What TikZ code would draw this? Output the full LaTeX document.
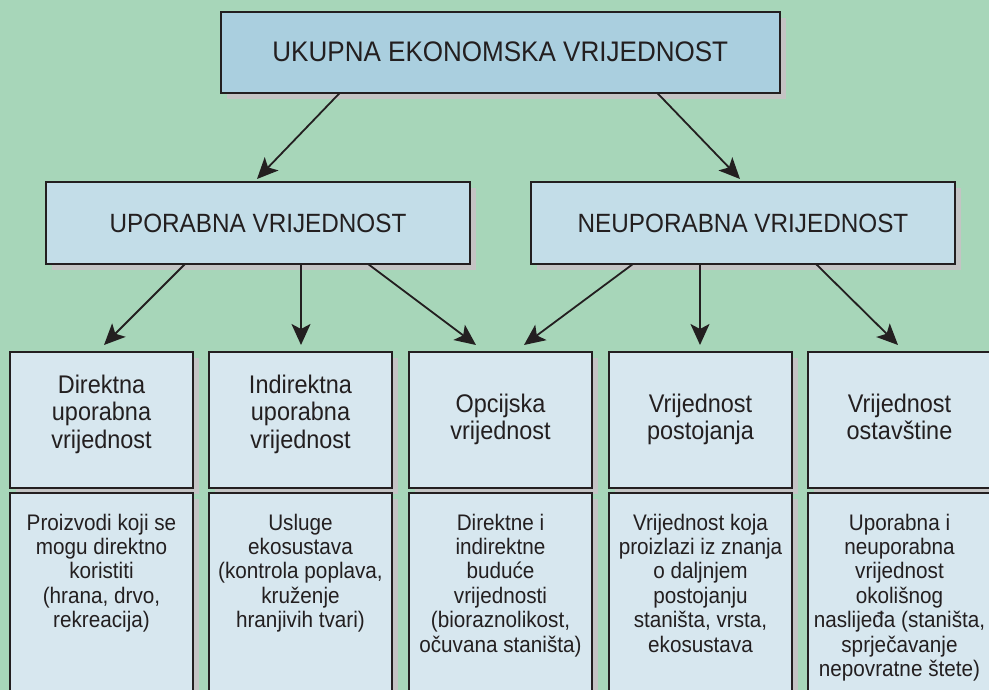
\documentclass[tikz,border=0pt]{standalone}
\usepackage{fontspec}
\setmainfont{Liberation Sans}[FakeStretch=0.92]
\usetikzlibrary{arrows.meta,shadows}

\definecolor{bggreen}{RGB}{167,214,185}
\definecolor{topblue}{RGB}{170,207,223}
\definecolor{midblue}{RGB}{195,221,232}
\definecolor{rowblue}{RGB}{215,231,239}
\definecolor{shadowgray}{RGB}{196,196,196}
\definecolor{ink}{RGB}{35,31,32}

\begin{document}
\begin{tikzpicture}[x=1pt,y=-1pt,
  box/.style={draw=ink, line width=1.8pt, outer sep=0pt, inner sep=0pt, text=ink,
    general shadow={fill=shadowgray, draw=none, shadow xshift=6pt, shadow yshift=-6pt}},
  headbox/.style={box, fill=topblue, minimum width=559pt, minimum height=81pt,
    font=\fontsize{28.3}{30}\selectfont},
  groupbox/.style={box, fill=midblue, minimum width=424pt, minimum height=82pt,
    font=\fontsize{26.4}{28}\selectfont},
  kindbox/.style={box, fill=rowblue, anchor=north, font=\fontsize{25.5}{27.7}\selectfont},
  notebox/.style={box, fill=rowblue, anchor=north, font=\fontsize{22.5}{24.4}\selectfont},
  arr/.style={draw=ink, line width=1.8pt, -{Stealth[length=21pt, width=19pt, inset=5pt]}}]

\useasboundingbox (0,0) rectangle (989,690);
\clip (0,0) rectangle (989,690);
\fill[bggreen] (0,0) rectangle (989,690);

% top level
\node[headbox] (top) at (500.3,52.2) {UKUPNA EKONOMSKA VRIJEDNOST};

% second level
\node[groupbox] (use) at (258,223) {UPORABNA VRIJEDNOST};
\node[groupbox] (nonuse) at (743,223) {NEUPORABNA VRIJEDNOST};

% value kinds
\newcommand{\kindtext}[2]{\parbox[t][136pt][t]{183pt}{\centering\rule{0pt}{#1}#2}}
\node[kindbox] (k1) at (101.5,352) {\kindtext{41pt}{Direktna\\uporabna\\vrijednost}};
\node[kindbox] (k2) at (300.5,352) {\kindtext{41pt}{Indirektna\\uporabna\\vrijednost}};
\node[kindbox] (k3) at (500.5,352) {\kindtext{60pt}{Opcijska\\vrijednost}};
\node[kindbox] (k4) at (700.5,352) {\kindtext{60pt}{Vrijednost\\postojanja}};
\node[kindbox] (k5) at (899.5,352) {\kindtext{60pt}{Vrijednost\\ostavštine}};

% descriptions
\newcommand{\notetext}[1]{\parbox[t][230pt][t]{183pt}{\centering\rule{0pt}{37pt}#1}}
\node[notebox] (d1) at (101.5,493) {\notetext{Proizvodi koji se\\mogu direktno\\koristiti\\(hrana, drvo,\\rekreacija)}};
\node[notebox] (d2) at (300.5,493) {\notetext{Usluge\\ekosustava\\(kontrola poplava,\\kruženje\\hranjivih tvari)}};
\node[notebox] (d3) at (500.5,493) {\notetext{Direktne i\\indirektne\\buduće\\vrijednosti\\(bioraznolikost,\\očuvana staništa)}};
\node[notebox] (d4) at (700.5,493) {\notetext{Vrijednost koja\\proizlazi iz znanja\\o daljnjem\\postojanju\\staništa, vrsta,\\ekosustava}};
\node[notebox] (d5) at (899.5,493) {\notetext{Uporabna i\\neuporabna\\vrijednost\\okolišnog\\naslijeđa (staništa,\\sprječavanje\\nepovratne štete)}};

% connectors
\draw[arr] ([xshift=-160.3pt]top.south) -- ([xshift=-1pt,yshift=3pt]use.north);
\draw[arr] ([xshift=156.7pt]top.south) -- ([xshift=-3pt,yshift=3pt]nonuse.north);

\draw[arr] ([xshift=-73pt]use.south) -- ([xshift=2.5pt,yshift=7pt]k1.north);
\draw[arr] ([xshift=43pt]use.south) -- ([xshift=0.5pt,yshift=7pt]k2.north);
\draw[arr] ([xshift=110pt]use.south) -- ([xshift=-24.5pt,yshift=7pt]k3.north);

\draw[arr] ([xshift=-110pt]nonuse.south) -- ([xshift=23.5pt,yshift=7pt]k3.north);
\draw[arr] ([xshift=-43pt]nonuse.south) -- ([xshift=-0.5pt,yshift=7pt]k4.north);
\draw[arr] ([xshift=73pt]nonuse.south) -- ([xshift=-1.5pt,yshift=7pt]k5.north);

\end{tikzpicture}
\end{document}
